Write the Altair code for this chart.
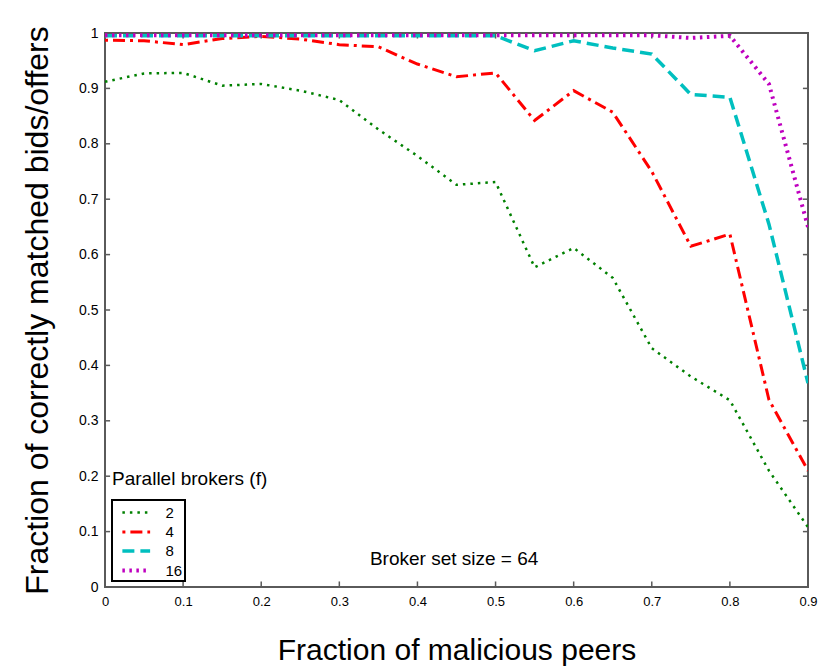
import altair as alt
import pandas as pd

# ---- data ----
x_vals = [0.0, 0.05, 0.1, 0.15, 0.2, 0.25, 0.3, 0.35, 0.4, 0.45,
          0.5, 0.55, 0.6, 0.65, 0.7, 0.75, 0.8, 0.85, 0.9]
f2 = [0.912, 0.927, 0.928, 0.905, 0.908, 0.896, 0.879, 0.826, 0.778, 0.726,
      0.731, 0.577, 0.612, 0.558, 0.431, 0.380, 0.337, 0.210, 0.108]
f4 = [0.987, 0.986, 0.979, 0.990, 0.994, 0.989, 0.979, 0.975, 0.944, 0.921,
      0.928, 0.842, 0.896, 0.857, 0.750, 0.615, 0.637, 0.338, 0.210]
f8 = [0.995, 0.995, 0.995, 0.995, 0.995, 0.995, 0.995, 0.995, 0.995, 0.995,
      0.995, 0.968, 0.986, 0.973, 0.962, 0.889, 0.884, 0.655, 0.368]
f16 = [0.996, 0.996, 0.996, 0.996, 0.996, 0.996, 0.996, 0.996, 0.996, 0.996,
       0.996, 0.996, 0.996, 0.996, 0.996, 0.991, 0.995, 0.908, 0.650]

series_names = ["2", "4", "8", "16"]
series_values = [f2, f4, f8, f16]
colors = ["#008000", "#ff0000", "#00bfbf", "#bf00bf"]
dashes = [[2.5, 5], [3, 5, 12, 5], [12, 6], [2.5, 4.5]]
widths = [2.5, 4, 4, 2.5]

tick_x = [0, 0.1, 0.2, 0.3, 0.4, 0.5, 0.6, 0.7, 0.8, 0.9]
tick_y = [0, 0.1, 0.2, 0.3, 0.4, 0.5, 0.6, 0.7, 0.8, 0.9, 1.0]

legend_title = "Parallel brokers (f)"
note_text = "Broker set size = 64"
x_title = "Fraction of malicious peers"
y_title = "Fraction of correctly matched bids/offers"

FONT = "Liberation Sans, Arial, Helvetica, sans-serif"
FRAME = "#5a5a5a"

rows = []
for name, ys in zip(series_names, series_values):
    for xv, yv in zip(x_vals, ys):
        rows.append({"x": xv, "y": yv, "f": name})
df = pd.DataFrame(rows)

xscale = alt.Scale(domain=[0, 0.9], nice=False, zero=False)
yscale = alt.Scale(domain=[0, 1], nice=False, zero=False)

legend = alt.Legend(
    title=None, orient="none", legendX=7, legendY=467,
    strokeColor="black", fillColor="white", padding=2,
    labelFont=FONT, labelFontSize=15, labelColor="black",
    symbolType="M-1.5,0H1.5", symbolSize=342, symbolStrokeWidth=3,
    symbolOffset=10.75, labelOffset=17.75, rowPadding=0,
    labelExpr="(datum.label == '16' ? datum.label : '\u2007' + datum.label) + '\u2007'",
)

lines = alt.Chart(df).mark_line(clip=True).encode(
    x=alt.X("x:Q", scale=xscale, axis=alt.Axis(
        values=tick_x, format="~g", labelFlush=False, domain=False,
        ticks=False, tickSize=0, grid=False, labelFont=FONT,
        labelFontSize=13, labelColor="black", labelPadding=8,
        title=x_title, titleFont=FONT, titleFontSize=30,
        titleFontWeight="normal", titleColor="black",
        titleX=351.5, titleY=72, titleBaseline="alphabetic",
        titleAlign="center")),
    y=alt.Y("y:Q", scale=yscale, axis=alt.Axis(
        values=tick_y, format="~g", labelFlush=False, domain=False,
        ticks=False, tickSize=0, grid=False, labelFont=FONT,
        labelFontSize=14, labelColor="black", labelPadding=7,
        title=y_title, titleFont=FONT, titleFontSize=32,
        titleFontWeight="normal", titleColor="black", titleAngle=270,
        titleX=-58, titleY=277, titleBaseline="alphabetic",
        titleAlign="center")),
    color=alt.Color("f:N", scale=alt.Scale(domain=series_names, range=colors),
                    legend=legend),
    strokeDash=alt.StrokeDash("f:N", scale=alt.Scale(domain=series_names, range=dashes),
                              legend=legend),
    strokeWidth=alt.StrokeWidth("f:N", scale=alt.Scale(domain=series_names, range=widths),
                                legend=None),
)

# inward ticks on all four sides
bt = pd.DataFrame({"x": tick_x})
lt = pd.DataFrame({"y": tick_y})
tick_len_y = 0.01
tick_len_x = 0.0065
bottom_ticks = alt.Chart(bt).mark_rule(color=FRAME, strokeWidth=1.5).encode(
    x="x:Q", y=alt.datum(0), y2=alt.datum(tick_len_y))
top_ticks = alt.Chart(bt).mark_rule(color=FRAME, strokeWidth=1.5).encode(
    x="x:Q", y=alt.datum(1), y2=alt.datum(1 - tick_len_y))
left_ticks = alt.Chart(lt).mark_rule(color=FRAME, strokeWidth=1.5).encode(
    y="y:Q", x=alt.datum(0), x2=alt.datum(tick_len_x))
right_ticks = alt.Chart(lt).mark_rule(color=FRAME, strokeWidth=1.5).encode(
    y="y:Q", x=alt.datum(0.9), x2=alt.datum(0.9 - tick_len_x))

legend_title_mark = alt.Chart().mark_text(
    text=legend_title, font=FONT, fontSize=19, align="left",
    baseline="alphabetic", color="black").encode(
    x=alt.datum(0.009), y=alt.datum(0.184))
note_mark = alt.Chart().mark_text(
    text=note_text, font=FONT, fontSize=19, align="center",
    baseline="alphabetic", color="black").encode(
    x=alt.datum(0.447), y=alt.datum(0.040))

chart = alt.layer(
    bottom_ticks, top_ticks, left_ticks, right_ticks,
    lines, legend_title_mark, note_mark
).properties(
    width=703, height=554,
    autosize=alt.AutoSizeParams(type="none"),
    padding={"left": 97, "top": 25, "right": 13, "bottom": 79},
    background="white",
).configure_view(
    stroke=FRAME, strokeWidth=2
).configure_legend(
    strokeWidth=2
)

chart.save("out.html", embed_options={"renderer": "svg", "actions": False})
